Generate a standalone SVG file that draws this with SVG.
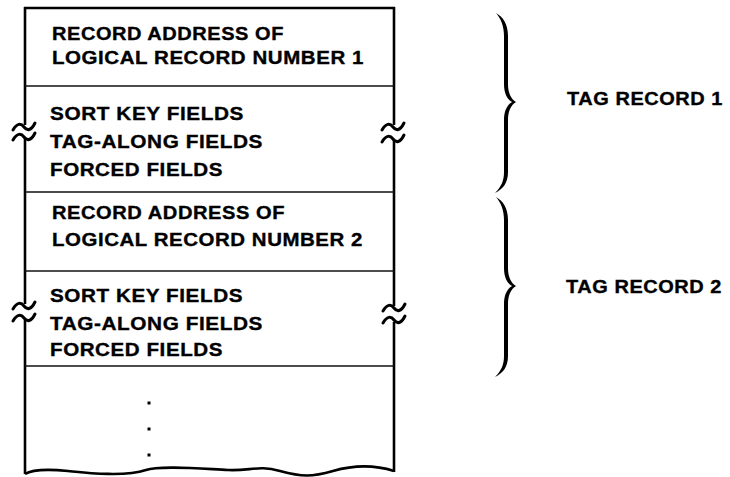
<svg xmlns="http://www.w3.org/2000/svg" width="730" height="477" viewBox="0 0 730 477">
<style>
.t{font-family:"Liberation Sans",Arial,Helvetica,sans-serif;font-weight:bold;font-size:18px;letter-spacing:0.5px;fill:#000;stroke:#000;stroke-width:0.35}
.edge{stroke:#000;stroke-width:2.6;fill:none;stroke-linecap:butt}
.div{stroke:#111;stroke-width:1.6;fill:none}
.tl{stroke:#000;stroke-width:3;fill:none;stroke-linecap:round}
.br{fill:#000;stroke:none}
</style>
<defs>
<path id="tilde" d="M-11,3 C-7,-4 -3,-4 0,0 S7,4 11,-4"/>
<path id="brace" d="M496,13 C503,17 508,24 508,36 L508,84 C508,93 511,99 516,102 C511,105 508,111 508,120 L508,172 C508,183 503,189 495,193 C501,187 504,181 504,172 L504,120 C504,111 507,105 512,102 C507,99 504,93 504,84 L504,36 C504,26 501,19 496,13 Z"/>
</defs>
<rect width="730" height="477" fill="#fff"/>

<g id="frame">
  <line class="edge" x1="24" y1="8" x2="395" y2="8"/>
  <line class="edge" x1="25" y1="7" x2="25" y2="125"/>
  <line class="edge" x1="25" y1="138" x2="25" y2="304"/>
  <line class="edge" x1="25" y1="320" x2="25" y2="474"/>
  <line class="edge" x1="394" y1="7" x2="394" y2="125"/>
  <line class="edge" x1="394" y1="140" x2="394" y2="306"/>
  <line class="edge" x1="394" y1="322" x2="394" y2="472"/>
  <use href="#tilde" class="tl" x="24" y="127"/>
  <use href="#tilde" class="tl" x="24" y="137"/>
  <use href="#tilde" class="tl" x="393" y="127"/>
  <use href="#tilde" class="tl" x="393" y="139"/>
  <use href="#tilde" class="tl" x="24" y="306"/>
  <use href="#tilde" class="tl" x="24" y="318"/>
  <use href="#tilde" class="tl" x="394" y="308"/>
  <use href="#tilde" class="tl" x="394" y="320"/>
  <path class="edge" d="M25,474 C33,469 48,469 68,471 S125,477 146,470 C160,465 205,469 228,470 S258,465 280,471 S312,477 333,471 S375,465 394,471"/>
</g>

<g id="record-address-1">
  <text class="t" x="52" y="40" textLength="232" lengthAdjust="spacingAndGlyphs">RECORD ADDRESS OF</text>
  <text class="t" x="52" y="64" textLength="312" lengthAdjust="spacingAndGlyphs">LOGICAL RECORD NUMBER 1</text>
  <line class="div" x1="25" y1="86" x2="394" y2="86"/>
</g>

<g id="fields-1">
  <text class="t" x="50" y="120" textLength="194" lengthAdjust="spacingAndGlyphs">SORT KEY FIELDS</text>
  <text class="t" x="50" y="148" textLength="213" lengthAdjust="spacingAndGlyphs">TAG-ALONG FIELDS</text>
  <text class="t" x="50" y="176" textLength="173" lengthAdjust="spacingAndGlyphs">FORCED FIELDS</text>
  <line class="div" x1="25" y1="192" x2="394" y2="192"/>
</g>

<g id="record-address-2">
  <text class="t" x="52" y="219" textLength="233" lengthAdjust="spacingAndGlyphs">RECORD ADDRESS OF</text>
  <text class="t" x="52" y="246" textLength="311" lengthAdjust="spacingAndGlyphs">LOGICAL RECORD NUMBER 2</text>
  <line class="div" x1="25" y1="271" x2="394" y2="271"/>
</g>

<g id="fields-2">
  <text class="t" x="50" y="302" textLength="193" lengthAdjust="spacingAndGlyphs">SORT KEY FIELDS</text>
  <text class="t" x="50" y="330" textLength="213" lengthAdjust="spacingAndGlyphs">TAG-ALONG FIELDS</text>
  <text class="t" x="50" y="356" textLength="173" lengthAdjust="spacingAndGlyphs">FORCED FIELDS</text>
  <line class="div" x1="25" y1="366" x2="394" y2="366"/>
</g>

<g id="continuation">
  <rect x="147.5" y="401.5" width="3" height="3" fill="#000"/>
  <rect x="147.5" y="427.5" width="3" height="3" fill="#000"/>
  <rect x="147.5" y="453.5" width="3" height="3" fill="#000"/>
</g>

<g id="connectors">
  <use href="#brace" class="br"/>
  <use href="#brace" class="br" y="184"/>
</g>

<g id="tag-record-1">
  <text class="t" x="567" y="105" textLength="156" lengthAdjust="spacingAndGlyphs">TAG RECORD 1</text>
</g>
<g id="tag-record-2">
  <text class="t" x="566" y="293" textLength="156" lengthAdjust="spacingAndGlyphs">TAG RECORD 2</text>
</g>
</svg>
